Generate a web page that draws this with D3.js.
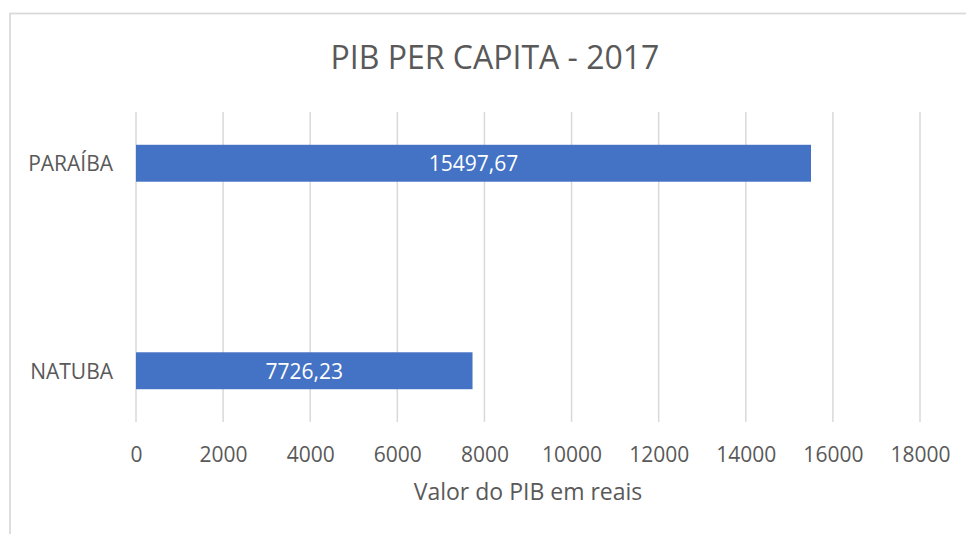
<!DOCTYPE html>
<html>
<head>
<meta charset="utf-8">
<script src="https://cdn.jsdelivr.net/npm/d3@7"></script>
<style>
  html, body { margin: 0; padding: 0; background: #fff; }
  svg { display: block; }
  text { font-family: "Open Sans", "Noto Sans", sans-serif; fill: #595959; }
</style>
</head>
<body>
<svg id="chart" width="966" height="534"></svg>
<script>
// ---- data ----
const categories = ["PARAÍBA", "NATUBA"];
const values = [15497.67, 7726.23];
const valueLabels = ["15497,67", "7726,23"];
const xTicks = [0, 2000, 4000, 6000, 8000, 10000, 12000, 14000, 16000, 18000];
const titleText = "PIB PER CAPITA - 2017";
const xAxisTitle = "Valor do PIB em reais";

// ---- layout ----
const W = 966, H = 534;
const plot = { left: 136, right: 920, top: 112, bottom: 422 };

const svg = d3.select("#chart");

// chart area border
svg.append("rect")
  .attr("x", 10).attr("y", 13.5)
  .attr("width", 980).attr("height", 540)
  .attr("fill", "#fff")
  .attr("stroke", "#d9d9d9")
  .attr("stroke-width", 1.75);

const x = d3.scaleLinear()
  .domain([0, d3.max(xTicks)])
  .range([plot.left, plot.right]);

const y = d3.scaleBand()
  .domain(categories)
  .range([plot.top, plot.bottom])
  .paddingInner(0.822)
  .paddingOuter(0.158);

// gridlines
svg.append("g")
  .selectAll("line")
  .data(xTicks)
  .join("line")
  .attr("x1", d => x(d)).attr("x2", d => x(d))
  .attr("y1", plot.top).attr("y2", plot.bottom)
  .attr("stroke", "#d9d9d9")
  .attr("stroke-width", 1.5);

// x axis tick labels
const xAxis = d3.axisBottom(x).tickValues(xTicks).tickSize(0).tickPadding(0).tickFormat(d3.format("d"));
const gx = svg.append("g")
  .attr("transform", `translate(0,${plot.bottom})`)
  .call(xAxis);
gx.select(".domain").remove();
gx.selectAll("text")
  .attr("y", 40).attr("dy", null)
  .style("font-family", '"Open Sans", sans-serif')
  .style("font-size", "21px")
  .attr("fill", "#595959");

// y axis category labels
const yAxis = d3.axisLeft(y).tickSize(0).tickPadding(0);
const gy = svg.append("g")
  .attr("transform", `translate(${plot.left},0)`)
  .call(yAxis);
gy.select(".domain").remove();
gy.selectAll("text")
  .attr("x", -23).attr("dy", null).attr("y", 8)
  .style("font-family", '"Open Sans", sans-serif')
  .style("font-size", "21px")
  .attr("fill", "#595959");

// bars
const data = categories.map((c, i) => ({ c, v: values[i], label: valueLabels[i] }));
svg.append("g")
  .selectAll("rect")
  .data(data)
  .join("rect")
  .attr("x", x(0))
  .attr("y", d => y(d.c))
  .attr("width", d => x(d.v) - x(0))
  .attr("height", y.bandwidth())
  .attr("fill", "#4472c4");

// value labels
svg.append("g")
  .selectAll("text")
  .data(data)
  .join("text")
  .attr("x", d => (x(0) + x(d.v)) / 2)
  .attr("y", d => y(d.c) + y.bandwidth() / 2 + 8)
  .attr("text-anchor", "middle")
  .style("font-size", "21px")
  .style("fill", "#ffffff")
  .text(d => d.label);

// title
svg.append("text")
  .attr("x", 495).attr("y", 69)
  .attr("text-anchor", "middle")
  .style("font-size", "32px")
  .text(titleText);

// axis title
svg.append("text")
  .attr("x", (plot.left + plot.right) / 2).attr("y", 500)
  .attr("text-anchor", "middle")
  .style("font-size", "23px")
  .text(xAxisTitle);
</script>
</body>
</html>
